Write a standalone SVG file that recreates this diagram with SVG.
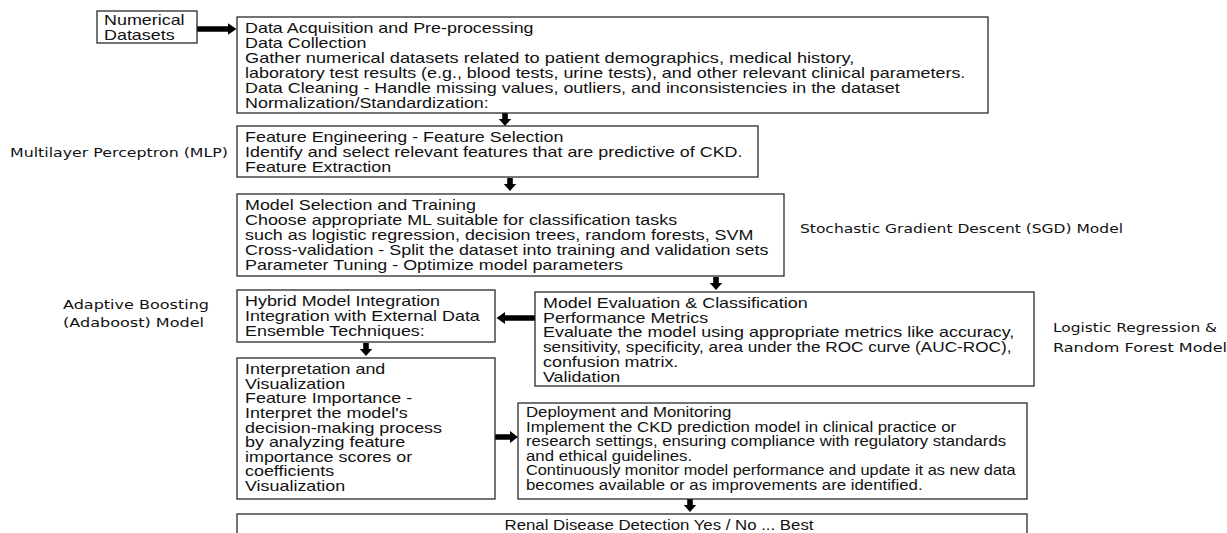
<svg xmlns="http://www.w3.org/2000/svg" xmlns:xlink="http://www.w3.org/1999/xlink" width="1227" height="533" viewBox="0 0 1227 533">
  <style>
    .box { fill: #ffffff; stroke: #2a2a2a; stroke-width: 1.3; }
    .t { font-family: "Liberation Sans", Arial, sans-serif; font-size: 14px; fill: #111111; }
    .side { font-family: "DejaVu Sans", "Liberation Sans", sans-serif; font-size: 12px; fill: #111111; }
    .arrow { fill: #000000; }
  </style>
  <defs>
    <!-- block arrow pointing down, tip at (0,13) -->
    <path id="dn" d="M-2.8,0 H2.8 V6 H6.2 L0,13 L-6.2,6 H-2.8 Z"/>
  </defs>
  <rect width="1227" height="533" fill="#ffffff"/>

  <g id="connectors" class="arrow">
    <path d="M197,26.3 H228 V23.3 L236.5,29 L228,34.7 V31.7 H197 Z"/>
    <use xlink:href="#dn" href="#dn" x="505" y="113"/>
    <use xlink:href="#dn" href="#dn" x="510" y="178"/>
    <use xlink:href="#dn" href="#dn" x="716" y="277"/>
    <path d="M535,315.3 H505 V312 L496.5,318 L505,324 V320.7 H535 Z"/>
    <use xlink:href="#dn" href="#dn" x="366" y="343"/>
    <path d="M495,434.3 H510 V431 L518,437 L510,443 V439.7 H495 Z"/>
    <use xlink:href="#dn" href="#dn" x="690" y="499"/>
  </g>

  <g id="node-numerical">
    <rect class="box" x="97" y="11" width="100" height="32"/>
    <g transform="translate(104,0) scale(1.28,1)">
      <text class="t" x="0" y="25">Numerical</text>
      <text class="t" x="0" y="40">Datasets</text>
    </g>
  </g>

  <g id="node-acquisition">
    <rect class="box" x="237" y="17" width="751" height="96"/>
    <g transform="translate(245,0) scale(1.28,1)">
      <text class="t" x="0" y="33">Data Acquisition and Pre-processing</text>
      <text class="t" x="0" y="48">Data Collection</text>
      <text class="t" x="0" y="63" textLength="476" lengthAdjust="spacingAndGlyphs">Gather numerical datasets related to patient demographics, medical history,</text>
      <text class="t" x="0" y="78">laboratory test results (e.g., blood tests, urine tests), and other relevant clinical parameters.</text>
      <text class="t" x="0" y="93">Data Cleaning - Handle missing values, outliers, and inconsistencies in the dataset</text>
      <text class="t" x="0" y="108">Normalization/Standardization:</text>
    </g>
  </g>

  <g id="node-feature">
    <rect class="box" x="237" y="126" width="521" height="51"/>
    <g transform="translate(245,0) scale(1.28,1)">
      <text class="t" x="0" y="142">Feature Engineering - Feature Selection</text>
      <text class="t" x="0" y="157">Identify and select relevant features that are predictive of CKD.</text>
      <text class="t" x="0" y="172">Feature Extraction</text>
    </g>
  </g>

  <g id="node-model-selection">
    <rect class="box" x="237" y="194" width="547" height="82"/>
    <g transform="translate(245,0) scale(1.28,1)">
      <text class="t" x="0" y="210">Model Selection and Training</text>
      <text class="t" x="0" y="225">Choose appropriate ML suitable for classification tasks</text>
      <text class="t" x="0" y="240">such as logistic regression, decision trees, random forests, SVM</text>
      <text class="t" x="0" y="255">Cross-validation - Split the dataset into training and validation sets</text>
      <text class="t" x="0" y="270">Parameter Tuning - Optimize model parameters</text>
    </g>
  </g>

  <g id="node-hybrid">
    <rect class="box" x="237" y="290" width="258" height="52"/>
    <g transform="translate(245,0) scale(1.28,1)">
      <text class="t" x="0" y="306">Hybrid Model Integration</text>
      <text class="t" x="0" y="321">Integration with External Data</text>
      <text class="t" x="0" y="336">Ensemble Techniques:</text>
    </g>
  </g>

  <g id="node-evaluation">
    <rect class="box" x="535" y="292" width="499" height="94"/>
    <g transform="translate(543,0) scale(1.28,1)">
      <text class="t" x="0" y="308">Model Evaluation &amp; Classification</text>
      <text class="t" x="0" y="323">Performance Metrics</text>
      <text class="t" x="0" y="337">Evaluate the model using appropriate metrics like accuracy,</text>
      <text class="t" x="0" y="352" textLength="366" lengthAdjust="spacingAndGlyphs">sensitivity, specificity, area under the ROC curve (AUC-ROC),</text>
      <text class="t" x="0" y="367">confusion matrix.</text>
      <text class="t" x="0" y="382">Validation</text>
    </g>
  </g>

  <g id="node-interpretation">
    <rect class="box" x="237" y="358" width="258" height="141"/>
    <g transform="translate(245,0) scale(1.28,1)">
      <text class="t" x="0" y="374">Interpretation and</text>
      <text class="t" x="0" y="389">Visualization</text>
      <text class="t" x="0" y="403">Feature Importance -</text>
      <text class="t" x="0" y="418">Interpret the model's</text>
      <text class="t" x="0" y="433">decision-making process</text>
      <text class="t" x="0" y="447">by analyzing feature</text>
      <text class="t" x="0" y="462">importance scores or</text>
      <text class="t" x="0" y="476">coefficients</text>
      <text class="t" x="0" y="491">Visualization</text>
    </g>
  </g>

  <g id="node-deployment">
    <rect class="box" x="518" y="403" width="509" height="96"/>
    <g transform="translate(526,0) scale(1.2,1)">
      <text class="t" x="0" y="417">Deployment and Monitoring</text>
      <text class="t" x="0" y="432">Implement the CKD prediction model in clinical practice or</text>
      <text class="t" x="0" y="446" textLength="400" lengthAdjust="spacingAndGlyphs">research settings, ensuring compliance with regulatory standards</text>
      <text class="t" x="0" y="461">and ethical guidelines.</text>
      <text class="t" x="0" y="475" textLength="408" lengthAdjust="spacingAndGlyphs">Continuously monitor model performance and update it as new data</text>
      <text class="t" x="0" y="490">becomes available or as improvements are identified.</text>
    </g>
  </g>

  <g id="node-result">
    <rect class="box" x="237" y="514" width="790" height="40"/>
    <g transform="translate(659,0) scale(1.2,1)">
      <text class="t" x="0" y="530" text-anchor="middle">Renal Disease Detection Yes / No ... Best</text>
    </g>
  </g>

  <g id="model-labels">
    <text class="side" x="10" y="157" textLength="218" lengthAdjust="spacingAndGlyphs">Multilayer Perceptron (MLP)</text>
    <text class="side" x="800" y="233" textLength="323" lengthAdjust="spacingAndGlyphs">Stochastic Gradient Descent (SGD) Model</text>
    <text class="side" x="63" y="309" textLength="146" lengthAdjust="spacingAndGlyphs">Adaptive   Boosting</text>
    <text class="side" x="63" y="327" textLength="141" lengthAdjust="spacingAndGlyphs">(Adaboost) Model</text>
    <text class="side" x="1053" y="332" textLength="164" lengthAdjust="spacingAndGlyphs">Logistic Regression &amp;</text>
    <text class="side" x="1053" y="352" textLength="174" lengthAdjust="spacingAndGlyphs">Random Forest Model</text>
  </g>
</svg>
